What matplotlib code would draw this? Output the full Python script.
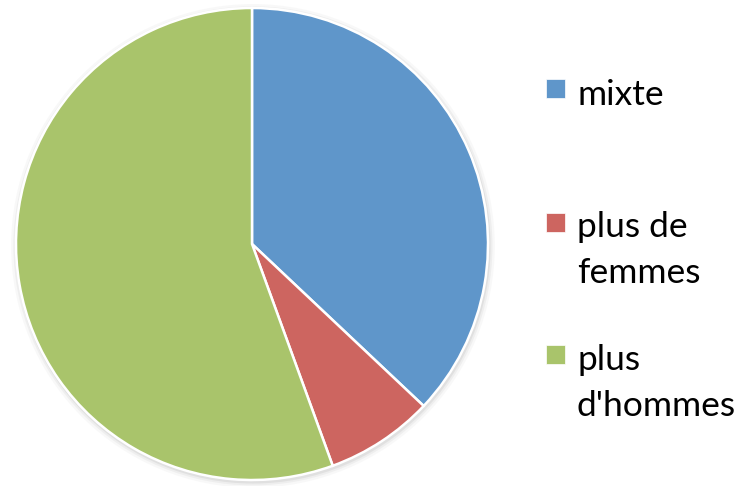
import matplotlib.pyplot as plt
from matplotlib.patches import Circle, Rectangle

labels = ['mixte', 'plus de\nfemmes', "plus\nd'hommes"]
values = [10, 2, 15]
colors = ['#5F96CA', '#CD6560', '#A9C46B']

plt.rcParams['font.family'] = ['Lato', 'DejaVu Sans']

fig = plt.figure(figsize=(7.44, 4.86), dpi=100)
W, H = 744, 486
cx, cy, r = 252, 244, 236

ax = fig.add_axes([(cx - r) / W, (H - cy - r) / H, 2 * r / W, 2 * r / H])

# soft shadow around the pie
for k, a in [(1.025, 0.05), (1.015, 0.08), (1.007, 0.12)]:
    ax.add_patch(Circle((0.004, -0.008), k, color='#808080', alpha=a, lw=0, zorder=0))

ax.pie(values, colors=colors, startangle=90, counterclock=False, radius=1,
       wedgeprops=dict(edgecolor='white', linewidth=1.8))
ax.set_xlim(-1.05, 1.05)
ax.set_ylim(-1.05, 1.05)
ax.set_aspect('equal')
ax.axis('off')
ax.set_position([(cx - r * 1.05) / W, (H - cy - r * 1.05) / H, 2 * r * 1.05 / W, 2 * r * 1.05 / H])

# legend drawn by hand (Excel-like spacing)
square_top = [79, 213, 345]
first_base = [105, 237, 370]
for lab, col, st, fb in zip(labels, colors, square_top, first_base):
    fig.patches.append(Rectangle((546 / W, 1 - (st + 19) / H), 19 / W, 19 / H,
                                 transform=fig.transFigure, facecolor=col,
                                 edgecolor='white', lw=0.5))
    for i, line in enumerate(lab.split('\n')):
        fig.text(577 / W, 1 - (fb + i * 46) / H, line, fontsize=25.5,
                 ha='left', va='baseline', color='black')

fig.savefig('out.png', dpi=100)
